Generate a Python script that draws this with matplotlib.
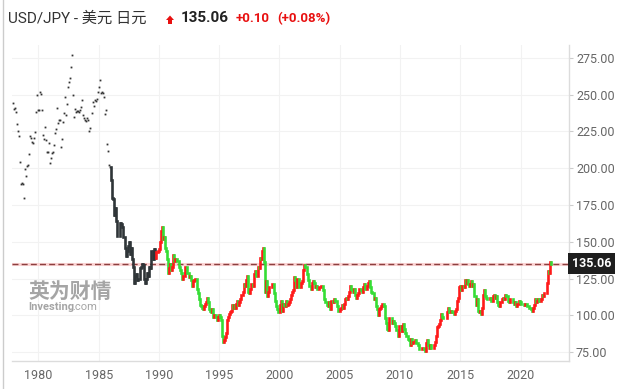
import numpy as np
import pandas as pd
import matplotlib
matplotlib.use("Agg")
import matplotlib.pyplot as plt
import matplotlib.dates as mdates
from matplotlib.collections import LineCollection
from matplotlib.patches import Polygon
from matplotlib.transforms import blended_transform_factory

plt.rcParams['font.family'] = ['Roboto', 'Noto Sans CJK SC', 'DejaVu Sans']

# sparse monthly points, Nov 1977 - Dec 1985 (nan = not readable)
early_start = "1977-11-01"
early_close = [
    244.4, 240.3, 241.2, 238.3, 229.9, 225.1, 221.7, 204.0, 189.3, 190.2,
    189.3, 179.5, 199.2, 194.5, 201.7, 202.4, 209.5, 221.7, 220.6, 217.6,
    216.9, 220.3, 224.4, 238.3, 249.6, 239.9, 239.4, 251.6, 250.5, 239.4,
    222.8, 219.7, 227.8, 219.0, 210.8, 210.8, 216.9, 203.3, 206.7, 210.1,
    211.3, 215.6, 223.8, 226.9, 240.8, 230.8, 232.6, 232.6, 214.2, 219.7,
    231.2, 237.4, 248.2, 236.2, 243.5, 255.3, 258.4, 261.2, 268.7, 276.8,
    249.6, 234.6, 240.1, 238.5, 239.2, 239.2, 238.5, 239.4, 241.9, 246.2,
    236.2, 234.0, 232.8, 231.9, 234.4, 233.0, 225.1, 227.2, np.nan, 237.4,
    245.3, 242.1, 246.7, 245.5, 247.3, 251.6, 255.0, 259.8, 251.0, 251.6,
    251.0, 248.2, 236.7, 239.4, 216.3, 211.5, 202.0, 200.6,
]

# monthly closes, Jan 1986 - Jul 2022
start = "1986-01-01"
close = [
    192, 180, 179, 168, 173, 164, 154, 154, 154, 163, 162, 160,  # 1986
    153, 153, 146, 140, 144, 147, 150, 142, 146, 138, 133, 122,  # 1987
    127, 128, 124, 125, 125, 132, 133, 135, 134, 125, 122, 125,  # 1988
    129, 127, 133, 132, 144, 144, 138, 145, 139, 143, 143, 144,  # 1989
    145, 150, 157, 160, 152, 153, 146, 144, 138, 129, 132, 135,  # 1990
    131, 133, 141, 137, 138, 138, 137, 137, 133, 131, 129, 125,  # 1991
    127, 129, 133, 133, 129, 126, 127, 124, 120, 123, 124, 125,  # 1992
    125, 118, 115, 111, 107, 106, 105, 104, 106, 108, 109, 112,  # 1993
    109, 104, 103, 102, 104, 99, 100, 100, 99, 97, 99, 100,      # 1994
    99, 97, 86, 82, 83, 85, 88, 97, 99, 101, 102, 103,           # 1995
    107, 105, 107, 105, 108, 110, 107, 109, 111, 114, 114, 116,  # 1996
    121, 120, 124, 127, 116, 115, 118, 121, 121, 120, 128, 130,  # 1997
    127, 127, 133, 132, 139, 138, 144, 146, 136, 116, 123, 113,  # 1998
    116, 119, 119, 119, 121, 121, 115, 110, 106, 104, 102, 102,  # 1999
    107, 110, 103, 108, 107, 106, 110, 107, 108, 109, 111, 114,  # 2000
    116, 117, 126, 124, 119, 125, 125, 119, 119, 122, 123, 131,  # 2001
    134, 133, 133, 128, 124, 120, 120, 118, 122, 123, 122, 119,  # 2002
    120, 118, 118, 119, 119, 120, 120, 117, 111, 109, 109, 107,  # 2003
    106, 109, 104, 110, 110, 109, 111, 110, 110, 106, 103, 103,  # 2004
    104, 105, 107, 105, 108, 111, 112, 111, 113, 116, 120, 118,  # 2005
    117, 116, 118, 114, 112, 114, 115, 118, 118, 117, 116, 119,  # 2006
    121, 118, 118, 120, 122, 123, 119, 116, 115, 115, 111, 112,  # 2007
    106, 104, 100, 104, 105, 106, 108, 108, 106, 98, 95, 91,     # 2008
    90, 98, 98, 98, 95, 96, 95, 93, 90, 90, 86, 93,              # 2009
    90, 89, 93, 94, 91, 88, 86, 84, 83, 80, 84, 81,              # 2010
    82, 82, 83, 81, 81, 80, 77, 77, 77, 78, 78, 77,              # 2011
    76, 81, 83, 80, 78, 80, 78, 78, 78, 80, 82, 86,              # 2012
    92, 93, 94, 97, 101, 99, 98, 98, 98, 98, 102, 105,           # 2013
    102, 102, 103, 102, 102, 101, 103, 104, 110, 112, 119, 120,  # 2014
    117, 120, 120, 119, 124, 122, 124, 121, 120, 121, 123, 120,  # 2015
    121, 113, 113, 107, 111, 103, 102, 103, 101, 105, 114, 117,  # 2016
    113, 112, 111, 111, 111, 112, 110, 110, 113, 114, 112, 113,  # 2017
    109, 107, 106, 109, 109, 111, 112, 111, 114, 113, 113, 110,  # 2018
    109, 111, 111, 111, 109, 108, 109, 106, 108, 108, 110, 109,  # 2019
    108, 108, 108, 107, 108, 108, 106, 106, 105, 105, 104, 103,  # 2020
    105, 107, 111, 109, 110, 111, 110, 110, 111, 114, 113, 115,  # 2021
    115, 115, 122, 130, 129, 136, 135.06,                        # 2022
]
color_from = "1989-10-01"
last_price = 135.06
yticks = [75, 100, 125, 150, 175, 200, 225, 250, 275]
xtick_years = [1980, 1985, 1990, 1995, 2000, 2005, 2010, 2015, 2020]

W, H = 628, 389
fig = plt.figure(figsize=(W / 100, H / 100), dpi=100)
ax = fig.add_axes([12 / W, 28 / H, 557 / W, 316 / H])

half = pd.Timedelta(days=15)
ex = mdates.date2num(pd.date_range(early_start, periods=len(early_close), freq="MS") + half)
ax.plot(ex, early_close, ls="none", marker="s", ms=1.3, color="#333333", mew=0)

cx = mdates.date2num(pd.date_range(start, periods=len(close), freq="MS") + half)
opens = [early_close[-1]] + close[:-1]
cutoff = mdates.date2num(pd.Timestamp(color_from))
segs, cols = [], []
for x, o, c in zip(cx, opens, close):
    segs.append([(x, o), (x, c)])
    if x < cutoff:
        cols.append("#2f3538")
    elif c >= o:
        cols.append("#ff1a1a")
    else:
        cols.append("#35dd35")
ax.add_collection(LineCollection(segs, colors=cols, linewidths=1.9,
                                 capstyle="projecting", zorder=3))

# last price line
ax.axhline(last_price, color="#fbd3d3", lw=2.2, zorder=2)
ax.axhline(last_price, color="#8b4040", lw=1.0, ls=(0, (4.3, 2.3)), zorder=2)

ax.set_xlim(mdates.date2num(pd.Timestamp("1977-10-25")), mdates.date2num(pd.Timestamp("2024-01-08")))
ax.set_ylim(68.9, 283.8)

ax.yaxis.tick_right()
ax.set_yticks(yticks)
ax.set_yticklabels([f"{v:.2f}" for v in yticks])
ax.set_xticks([mdates.date2num(pd.Timestamp(f"{y}-01-01")) for y in xtick_years])
ax.set_xticklabels([str(y) for y in xtick_years])
ax.tick_params(axis="y", length=3, color="#cccccc", labelcolor="#666666", labelsize=9, pad=2)
ax.tick_params(axis="x", length=0, labelcolor="#666666", labelsize=9, pad=6)
ax.grid(True, color="#f2f2f2", lw=0.8)
ax.set_axisbelow(True)
for s in ["top", "left"]:
    ax.spines[s].set_visible(False)
for s in ["right", "bottom"]:
    ax.spines[s].set_color("#dcdcdc")
    ax.spines[s].set_linewidth(1)

trans = blended_transform_factory(ax.transAxes, ax.transData)
ax.annotate(f"{last_price:.2f}", xy=(1, last_price), xycoords=trans,
            xytext=(3, 0), textcoords="offset pixels", ha="left", va="center",
            color="white", fontsize=9, fontweight="bold", zorder=10,
            annotation_clip=False,
            bbox=dict(boxstyle="square,pad=0.3", fc="#1e1e1e", ec="none"))

# watermark
fig.text(28 / W, 1 - 291 / H, "英为财情", fontsize=15, fontweight="bold",
         color="#8f8f8f", family=["Noto Sans CJK SC"], va="center", alpha=0.8)
fig.text(28 / W, 1 - 307 / H, "Investing", fontsize=8, fontweight="bold",
         color="#8f8f8f", va="center", alpha=0.8)
fig.text(72 / W, 1 - 307 / H, ".com", fontsize=8, color="#a5a5a5", va="center")

# header
ty = 1 - 18.5 / H
fig.text(8 / W, ty, "USD/JPY - 美元 日元", fontsize=11, color="#333333", va="center")
arrow = [(166, 20), (170, 15.5), (174, 20), (172, 20), (172, 24), (168, 24), (168, 20)]
fig.patches.append(Polygon([(x / W, 1 - y / H) for x, y in arrow], closed=True,
                           transform=fig.transFigure, fc="#e81010", ec="none"))
fig.text(181 / W, ty, "135.06", fontsize=11, fontweight="bold", color="#222222", va="center")
fig.text(236 / W, ty, "+0.10", fontsize=9.5, fontweight="bold", color="#e81010", va="center")
fig.text(277 / W, ty, "(+0.08%)", fontsize=9.5, fontweight="bold", color="#e81010", va="center")

# frame line on the left
fig.add_artist(plt.Line2D([2.5 / W, 2.5 / W], [0, 1], transform=fig.transFigure,
                          color="#cccccc", lw=1))

fig.savefig("out.png", dpi=100)
